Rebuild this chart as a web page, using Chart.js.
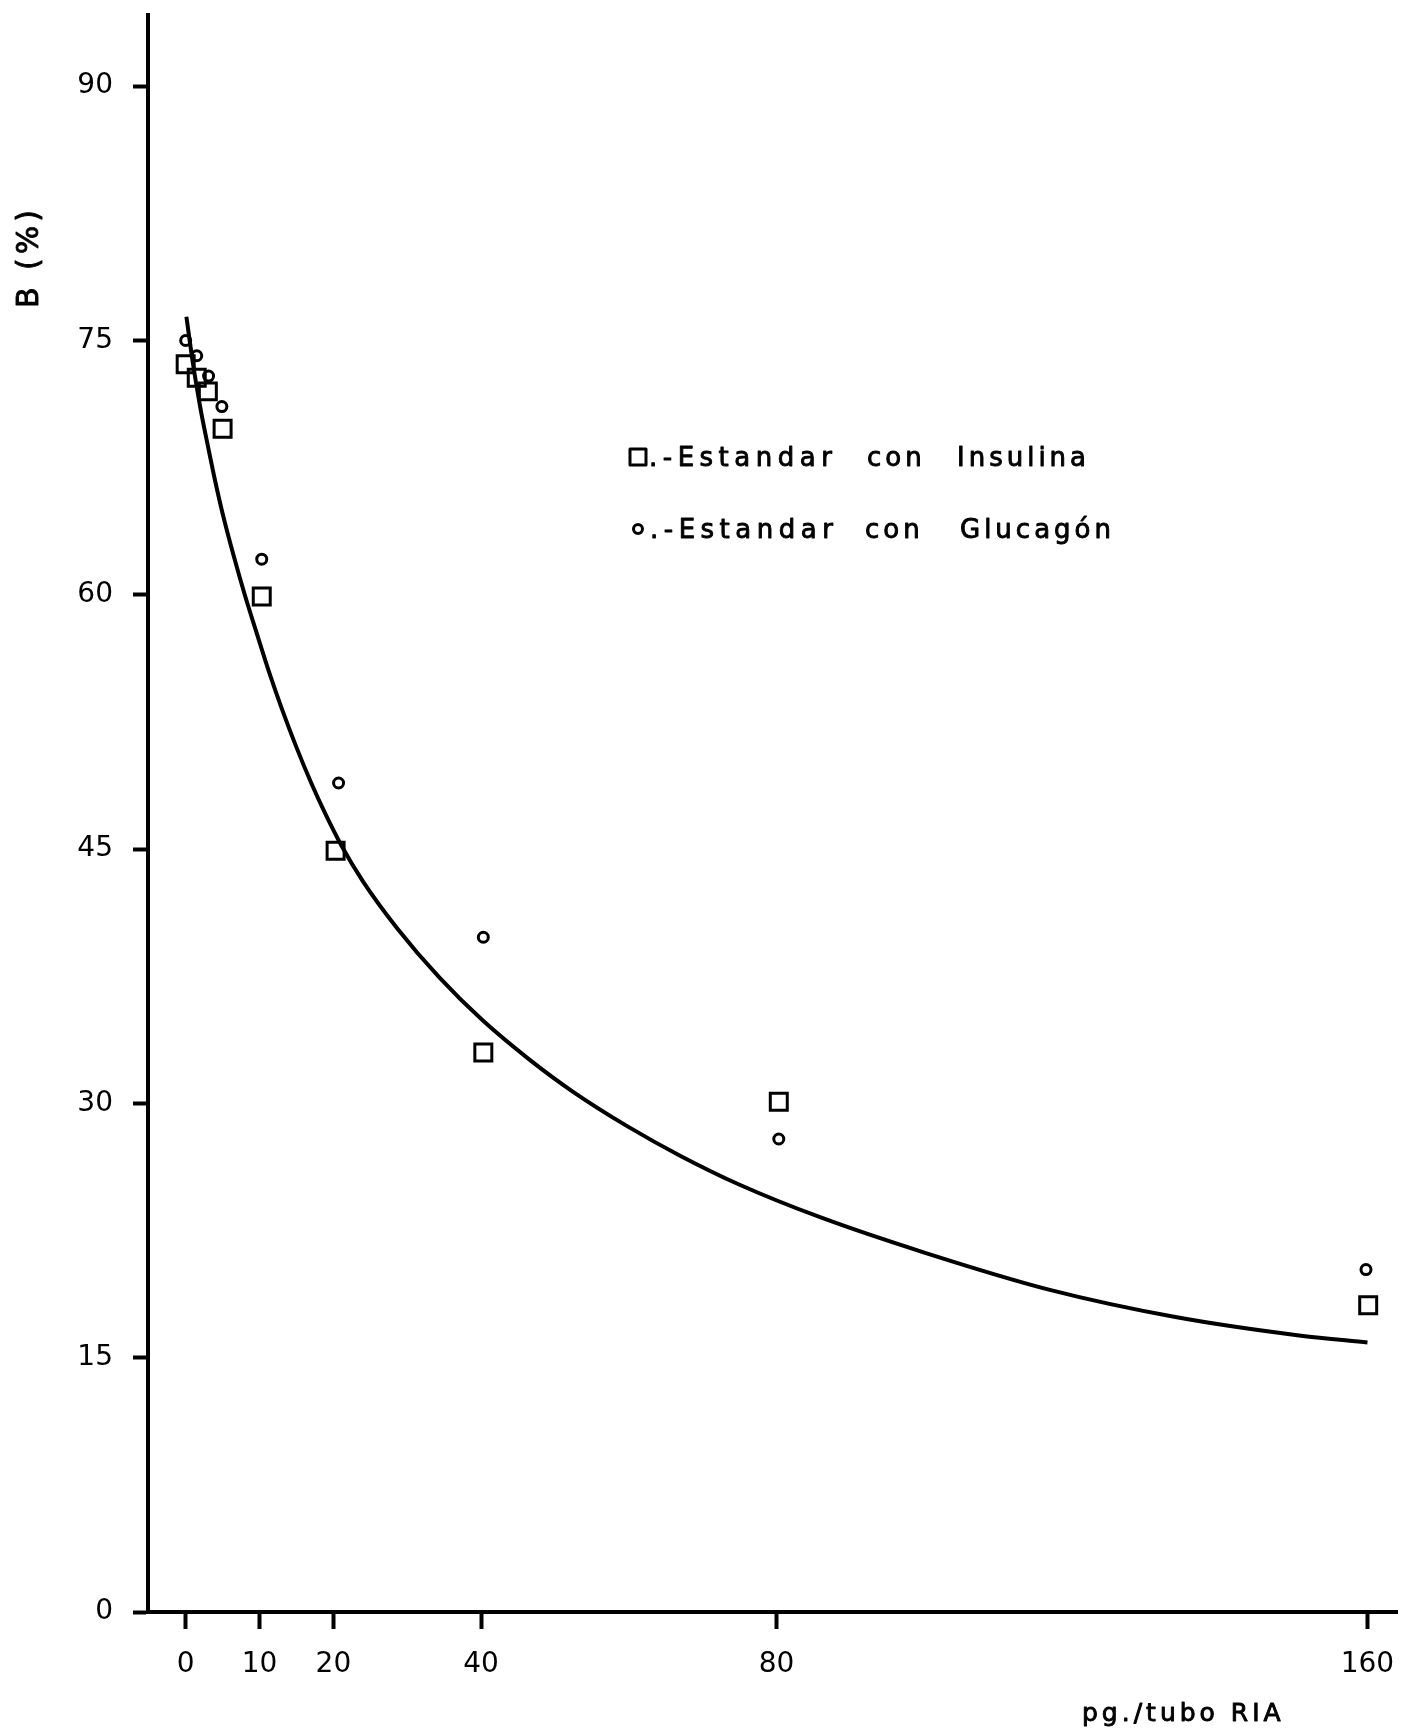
<!DOCTYPE html>
<html>
<head>
<meta charset="utf-8">
<script src="https://cdn.jsdelivr.net/npm/chart.js@4/dist/chart.umd.min.js"></script>
<style>
  html, body { margin: 0; padding: 0; background: #fff; }
  canvas { display: block; }
</style>
</head>
<body>
<canvas id="riaChart" width="1412" height="1736"></canvas>
<script>
'use strict';

// axis ticks
const xTicks = [0, 10, 20, 40, 80, 160];
const yTicks = [0, 15, 30, 45, 60, 75, 90];

// Estandar con Insulina (squares)
const insulinaX = [0, 1.5, 3, 5, 10.3, 20.3, 40.3, 80.3, 160.1];
const insulinaY = [73.6, 72.8, 72.0, 69.8, 59.9, 44.9, 33.0, 30.1, 18.1];

// Estandar con Glucagón (circles)
const glucagonX = [0, 1.5, 3.1, 4.9, 10.3, 20.7, 40.3, 80.3, 159.8];
const glucagonY = [75.0, 74.1, 72.9, 71.1, 62.1, 48.9, 39.8, 27.9, 20.2];

// standard curve
const curveX = [0.1, 1, 2, 3, 4, 5, 6.5, 8, 9.5, 11.4, 13, 15, 17, 19, 21.1, 24, 28.6, 34.4, 40.2, 46.5, 52.4, 60, 67, 75, 85.8, 100, 117, 134, 151, 160];
const curveY = [76.4, 73.6, 71.0, 68.8, 66.7, 64.8, 62.3, 60.0, 57.9, 55.3, 53.3, 51.0, 48.9, 47.0, 45.2, 43.1, 40.35, 37.4, 34.9, 32.6, 30.7, 28.6, 26.9, 25.2, 23.3, 21.2, 19.0, 17.4, 16.3, 15.9];

const legendLines = [
    ['.-Estandar', 'con', 'Insulina'],
    ['.-Estandar', 'con', 'Glucagón'],
];
const xTitle = 'pg./tubo RIA';
const yTitle = 'B (%)';

const pts = (xs, ys) => xs.map((x, i) => ({ x, y: ys[i] }));
const FONT = '"DejaVu Sans", Verdana, sans-serif';

// paints text slightly heavier, like a plotter pen
function penText(ctx, s, x, y) {
    ctx.fillText(s, x, y);
    ctx.strokeText(s, x, y);
}

const textPlugin = {
    id: 'paperText',
    afterDraw(chart) {
        const ctx = chart.ctx;
        const spacing = (px) => { if ('letterSpacing' in ctx) ctx.letterSpacing = px + 'px'; };
        ctx.save();
        ctx.fillStyle = '#000';
        ctx.strokeStyle = '#000';
        ctx.lineWidth = 0.9;
        ctx.lineJoin = 'round';
        ctx.textBaseline = 'alphabetic';
        ctx.textAlign = 'left';

        // legend
        ctx.font = '26px ' + FONT;
        const rows = [{ y: 466, xs: [649, 867, 957] }, { y: 538, xs: [650, 865, 960] }];
        rows.forEach((row, r) => {
            legendLines[r].forEach((word, i) => {
                spacing(i === 0 ? 5.5 : 4);
                penText(ctx, word, row.xs[i], row.y);
            });
        });
        ctx.lineWidth = 3;
        ctx.strokeRect(630, 449, 16, 16);
        ctx.beginPath();
        ctx.arc(638, 529, 4.5, 0, Math.PI * 2);
        ctx.stroke();

        // x title
        spacing(4);
        ctx.lineWidth = 0.9;
        ctx.font = '25px ' + FONT;
        penText(ctx, xTitle, 1082, 1721);

        // y title, rotated
        ctx.translate(38, 257);
        ctx.rotate(-Math.PI / 2);
        ctx.textAlign = 'center';
        ctx.font = '30px ' + FONT;
        penText(ctx, yTitle, 0, 0);
        ctx.restore();
    }
};

new Chart(document.getElementById('riaChart'), {
    type: 'scatter',
    data: {
        datasets: [
            { type: 'line', label: 'curva', data: pts(curveX, curveY), borderColor: '#000', borderWidth: 4, pointRadius: 0, cubicInterpolationMode: 'monotone', fill: false, order: 3 },
            { label: 'Estandar con Insulina', data: pts(insulinaX, insulinaY), pointStyle: 'rect', pointRadius: 12, borderColor: '#000', borderWidth: 3, backgroundColor: 'rgba(255,255,255,0)', order: 1 },
            { label: 'Estandar con Glucagón', data: pts(glucagonX, glucagonY), pointStyle: 'circle', pointRadius: 5, borderColor: '#000', borderWidth: 3, backgroundColor: 'rgba(255,255,255,0)', order: 2 },
        ],
    },
    options: {
        responsive: false, animation: false,
        layout: { padding: { top: 10, right: 14, left: 0, bottom: 0 } },
        plugins: { legend: { display: false }, tooltip: { enabled: false } },
        scales: {
            x: {
                type: 'linear', min: -5.1, max: 164,
                afterBuildTicks: (axis) => { axis.ticks = xTicks.map(v => ({ value: v })); },
                afterFit: (axis) => { axis.height = 124; axis.paddingLeft = 0; axis.paddingRight = 0; },
                grid: { drawOnChartArea: false, drawTicks: true, tickLength: 17, tickWidth: 4, tickColor: '#000' },
                border: { display: true, color: '#000', width: 4 },
                ticks: { color: '#000', padding: 19, maxRotation: 0, autoSkip: false, font: { family: FONT, size: 28 } },
            },
            y: {
                type: 'linear', min: 0, max: 94.2,
                afterBuildTicks: (axis) => { axis.ticks = yTicks.map(v => ({ value: v })); },
                afterFit: (axis) => { axis.width = 148; axis.paddingTop = 0; axis.paddingBottom = 0; },
                grid: { drawOnChartArea: false, drawTicks: true, tickLength: 15, tickWidth: 4, tickColor: '#000' },
                border: { display: true, color: '#000', width: 4 },
                ticks: { color: '#000', padding: 20, autoSkip: false, font: { family: FONT, size: 28 } },
            },
        },
    },
    plugins: [textPlugin],
});
</script>
</body>
</html>
